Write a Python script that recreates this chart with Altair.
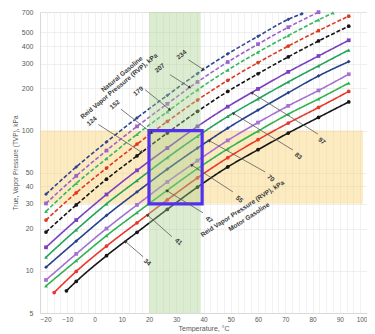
import math
import altair as alt
import pandas as pd

W, H = 327, 301
X_DOM = [-20, 100]
Y_DOM = [5, 700]
FONT = "Liberation Sans"

# ---------------- data ----------------
SERIES = ["34", "41", "47", "55", "70", "83", "97", "124", "152", "179", "207", "234"]
KIND = ["solid"] * 7 + ["dashed"] * 5
COLORS = ["#161616", "#e8382c", "#2fb34f", "#a572d2", "#27408b", "#22a35a", "#7b3fc0",
          "#161616", "#dc3a1e", "#36b85e", "#9c63c9", "#2f4590"]
SHAPES = ["circle", "circle", "triangle-up", "square", "diamond", "triangle-up", "square",
          "circle", "circle", "triangle-up", "square", "diamond"]

T_STD = [-17.8, -6.7, 4.4, 15.6, 26.7, 37.8, 48.9, 60.0, 71.1, 82.2, 93.3]

temps_34 = [-10.3, -6.7, 4.4, 15.6, 26.7, 37.8, 48.9, 60.0, 71.1, 82.2, 93.3]
tvp_34 = [7.2, 8.4, 12.8, 18.8, 27.4, 39.5, 55, 73, 96, 124, 160]
temps_41 = [-14.8, -6.7, 4.4, 15.6, 26.7, 37.8, 48.9, 60.0, 71.1, 82.2, 93.3]
tvp_41 = [7.0, 9.9, 15.0, 22.0, 32, 46, 64, 86, 113, 146, 190]
tvp_47 = [7.8, 11.8, 17.8, 26, 37.5, 53.5, 74, 99, 131, 168, 218]
tvp_55 = [8.6, 13.2, 20, 29.5, 43, 61, 85, 114, 150, 193, 252]
tvp_70 = [10.6, 16.3, 24.8, 36.5, 53, 75, 104, 140, 186, 245, 310]
tvp_83 = [12.5, 19.6, 30, 44, 64, 91, 126, 168, 222, 289, 375]
tvp_97 = [14.7, 23, 35, 52, 75, 107, 148, 198, 262, 340, 440]
tvp_124 = [18.9, 29.5, 45, 66, 96, 137, 190, 254, 335, 435, 555]
tvp_152 = [23.0, 36, 54, 80, 116, 165, 228, 305, 400, 515, 654]
temps_179 = [-17.8, -6.7, 4.4, 15.6, 26.7, 37.8, 48.9, 60.0, 71.1, 82.2, 87.5]
tvp_179 = [26.5, 42, 63, 94, 136, 195, 270, 362, 475, 615, 690]
temps_207 = [-17.8, -6.7, 4.4, 15.6, 26.7, 37.8, 48.9, 60.0, 71.1, 82.2]
tvp_207 = [30.2, 47.5, 72, 107, 155, 222, 308, 413, 545, 698]
temps_234 = [-17.8, -6.7, 4.4, 15.6, 26.7, 37.8, 48.9, 60.0, 71.1, 76.1]
tvp_234 = [35.2, 55, 83, 123, 178, 255, 352, 470, 620, 679]

CURVES = {
    "34": (temps_34, tvp_34), "41": (temps_41, tvp_41), "47": (T_STD, tvp_47),
    "55": (T_STD, tvp_55), "70": (T_STD, tvp_70), "83": (T_STD, tvp_83),
    "97": (T_STD, tvp_97), "124": (T_STD, tvp_124), "152": (T_STD, tvp_152),
    "179": (temps_179, tvp_179), "207": (temps_207, tvp_207), "234": (temps_234, tvp_234),
}

# shaded ranges
ORANGE_T = [-20, 98.5]
ORANGE_P = [30, 100]
GREEN_T = [20, 39]
BOX_T = [20, 39.5]
BOX_P = [30, 100]

# annotations (data coordinates)
ann_text = ["Natural Gasoline", "Reid Vapor Pressure (RVP), kPa",
            "124", "152", "179", "207", "234",
            "34", "41", "47", "55", "70", "83", "97",
            "Reid Vapor Pressure (RVP), kPa", "Motor Gasoline"]
ann_t = [10.1, 9.0, -1.0, 7.5, 16.1, 24.0, 32.0,
         19.4, 30.8, 42.0, 53.1, 64.7, 74.8, 83.4, 54.3, 56.7]
ann_p = [252, 207, 116.7, 153, 190.6, 279, 347,
         11.5, 16.1, 23.1, 32.4, 45.7, 65.8, 84.1, 27.7, 24.2]
ann_angle = [320, 320, 320, 320, 320, 320, 320,
             40, 40, 40, 40, 40, 40, 40, 327, 327]

lead_start_t = [1.4, 9.7, 18.5, 27.7, 34.4, 17.8, 28.4, 39.8, 50.8, 62.6, 72.8, 82.0]
lead_start_p = [110.5, 142, 196, 250, 320, 12.6, 17.5, 25.9, 36.5, 50.7, 72.6, 94.3]
lead_tip_t = [17.3, 21.0, 27.7, 35.0, 40.0, 11.3, 19.4, 26.5, 35.6, 42.0, 50.9, 57.7]
lead_tip_p = [70, 96, 140.5, 203, 272, 16.2, 25.0, 37.3, 56.9, 84.9, 132.7, 186]

# ---------------- tables ----------------
rows = []
for s, k in zip(SERIES, KIND):
    ts, ps = CURVES[s]
    for t, p in zip(ts, ps):
        rows.append({"series": s, "kind": k, "t": t, "p": p})
curves = pd.DataFrame(rows)


def px(t):
    return (t - X_DOM[0]) / (X_DOM[1] - X_DOM[0]) * W


def py(p):
    return H * (math.log10(Y_DOM[1]) - math.log10(p)) / (math.log10(Y_DOM[1]) - math.log10(Y_DOM[0]))


heads = []
for t0, p0, t1, p1 in zip(lead_start_t, lead_start_p, lead_tip_t, lead_tip_p):
    dx = px(t1) - px(t0)
    dy = py(p1) - py(p0)
    ang = math.degrees(math.atan2(dx, -dy)) % 360
    heads.append({"t": t0, "p": p0, "t2": t1, "p2": p1, "ang": ang})
leaders = pd.DataFrame(heads)

ann = pd.DataFrame({"txt": ann_text, "t": ann_t, "p": ann_p, "ang": ann_angle})

orange = pd.DataFrame({"t": [ORANGE_T[0]], "t2": [ORANGE_T[1]], "p": [ORANGE_P[0]], "p2": [ORANGE_P[1]]})
green = pd.DataFrame({"t": [GREEN_T[0]], "t2": [GREEN_T[1]], "p": [Y_DOM[0]], "p2": [Y_DOM[1]]})
box = pd.DataFrame({"t": [BOX_T[0]], "t2": [BOX_T[1]], "p": [BOX_P[0]], "p2": [BOX_P[1]]})

# ---------------- encodings ----------------
x_minor = [X_DOM[0] + 2.5 * i for i in range(int((X_DOM[1] - X_DOM[0]) / 2.5) + 1)]
y_vals = [5, 10, 20, 30, 40, 50, 100, 200, 300, 400, 500, 700]

xaxis = alt.Axis(title="Temperature, °C", values=x_minor,
                 labelExpr="datum.value % 10 === 0 ? datum.label : ''",
                 ticks=False, labelPadding=3, titlePadding=2,
                 labelFontSize=6.5, titleFontSize=7, labelColor="#595959", titleColor="#595959",
                 titleFontWeight="normal", labelFont=FONT, titleFont=FONT,
                 grid=True, gridColor="#e9e9e9", gridWidth=0.6, domainColor="#d9d9d9")
yaxis = alt.Axis(title="True, Vapor Pressure (TVP), kPa", values=y_vals,
                 ticks=False, labelPadding=7, titlePadding=3,
                 labelFontSize=7, titleFontSize=6.5, labelColor="#595959", titleColor="#595959",
                 titleFontWeight="normal", labelFont=FONT, titleFont=FONT,
                 grid=True, gridColor="#e4e4e4", gridWidth=0.6, domainColor="#d9d9d9")
xs = alt.Scale(domain=X_DOM, nice=False, zero=False)
ys = alt.Scale(type="log", domain=Y_DOM, nice=False)


def X(f="t"):
    return alt.X(f"{f}:Q", scale=xs, axis=xaxis)


def Y(f="p"):
    return alt.Y(f"{f}:Q", scale=ys, axis=yaxis)


color = alt.Color("series:N", scale=alt.Scale(domain=SERIES, range=COLORS), legend=None)

orange_l = alt.Chart(orange).mark_rect(color="#F8D273", opacity=0.45).encode(
    x=X(), x2="t2:Q", y=Y(), y2="p2:Q")

lines = alt.Chart(curves).mark_line(strokeWidth=1.6, interpolate="monotone").encode(
    x=X(), y=Y(), color=color, detail="series:N",
    strokeDash=alt.StrokeDash("kind:N", scale=alt.Scale(domain=["solid", "dashed"],
                                                          range=[[1, 0], [4, 2]]), legend=None))

points = alt.Chart(curves).mark_point(filled=True, size=14, opacity=1).encode(
    x=X(), y=Y(), color=color,
    shape=alt.Shape("series:N", scale=alt.Scale(domain=SERIES, range=SHAPES), legend=None))

green_l = alt.Chart(green).mark_rect(color="#a8d08d", opacity=0.4).encode(
    x=X(), x2="t2:Q", y=Y(), y2="p2:Q")

box_l = alt.Chart(box).mark_rect(fill=None, stroke="#5230F0", strokeWidth=3.2, fillOpacity=0).encode(
    x=X(), x2="t2:Q", y=Y(), y2="p2:Q")

lead_l = alt.Chart(leaders).mark_rule(color="#5a5a5a", strokeWidth=0.8).encode(
    x=X(), y=Y(), x2="t2:Q", y2="p2:Q")

head_l = alt.Chart(leaders).mark_point(shape="triangle-up", filled=True, size=12,
                                       color="#333333", opacity=1).encode(
    x=X("t2"), y=Y("p2"), angle=alt.Angle("ang:Q", scale=None))

text_l = alt.Chart(ann).mark_text(font=FONT, fontSize=6.5, fontWeight="bold", color="#3a3a3a",
                                  align="center", baseline="middle").encode(
    x=X(), y=Y(), text="txt:N", angle=alt.Angle("ang:Q", scale=None))

chart = alt.layer(orange_l, lines, points, green_l, box_l, lead_l, head_l, text_l).properties(
    width=W, height=H, padding={"left": 4, "top": 0, "right": 0, "bottom": 0}
).configure_view(stroke=None).configure(background="white")

chart.save("out.html", embed_options={"renderer": "svg", "actions": False})
